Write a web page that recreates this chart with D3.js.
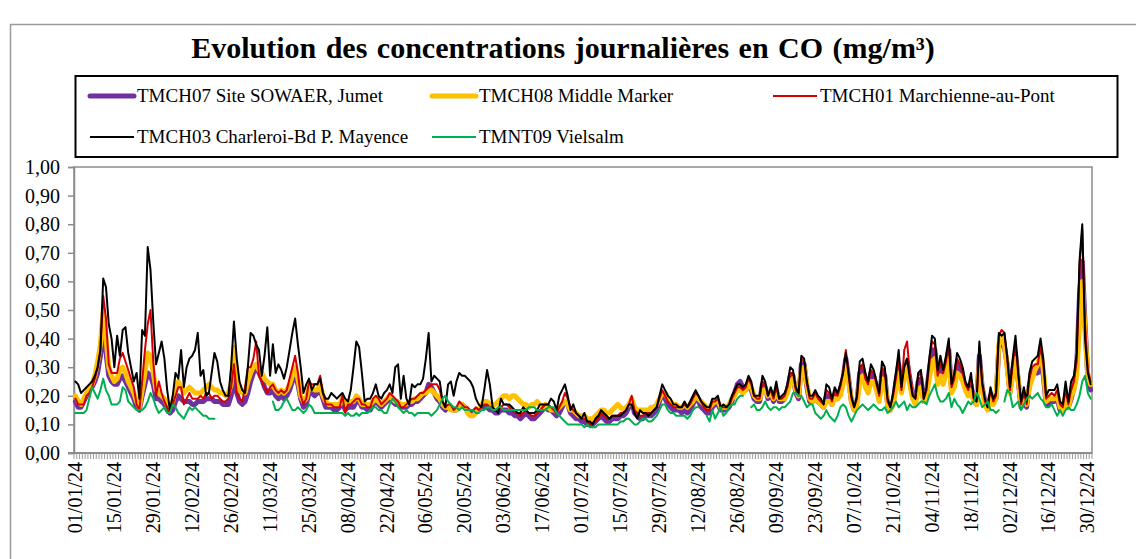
<!DOCTYPE html>
<html>
<head>
<meta charset="utf-8">
<script src="https://cdn.jsdelivr.net/npm/d3@7"></script>
<style>
body { margin: 0; background: #fff; }
text { font-family: "Liberation Serif", "Times New Roman", serif; fill: #000; }
</style>
</head>
<body>
<div id="chart"></div>
<script>
// daily CO, mg/m3, 01/01/24 -> 31/12/24 (366 days), null = no data
var tmch07 = [
  .18,.16,.16,.18,.20,.22,.23,.25,.28,.34, .45,.35,.27,.25,.24,.24,.26,.27,.25,.23,
  .21,.19,.16,.15,.20,.24,.28,.27,.24,.19, .19,.18,.17,.15,.14,.15,.18,.20,.19,.18,
  .18,.18,.17,.17,.18,.18,.18,.19,.19,.19, .18,.18,.18,.17,.17,.17,.20,.27,.21,.18,
  .17,.18,.21,.25,.28,.30,.28,.26,.23,.21, .21,.22,.20,.19,.20,.19,.20,.22,.25,.28,
  .24,.19,.16,.17,.21,.21,.20,.21,.22,.19, .16,.16,.16,.15,.15,.16,.18,.15,.16,.16,
  .16,.18,.18,.16,.16,.15,.15,.17,.18,.17, .16,.17,.18,.19,.18,.17,.17,.16,.16,.16,
  .17,.17,.18,.18,.19,.20,.21,.24,.23,.21, .19,.18,.16,.15,.16,.16,.15,.15,.16,.17,
  .16,.15,.14,.14,.15,.15,.16,.16,.16,.15, .15,.14,.14,.15,.15,.15,.14,.14,.13,.13,
  .12,.13,.14,.13,.12,.12,.13,.14,.15,.16, .15,.15,.14,.13,.14,.16,.18,.17,.14,.13,
  .12,.12,.11,.11,.10,.10,.10,.11,.12,.13, .12,.11,.11,.12,.12,.12,.13,.13,.14,.16,
  .18,.14,.13,.12,.12,.13,.13,.13,.14,.15, .18,.21,.19,.17,.16,.15,.15,.15,.14,.15,
  .14,.15,.17,.19,.18,.16,.15,.14,.14,.16, .17,.17,.15,.15,.15,.16,.18,.21,.24,.25,
  .23,.22,.24,.22,.19,.18,.18,.24,.23,.19, .21,.18,.22,.18,.18,.19,.22,.27,.27,.21,
  .19,.31,.31,.23,.18,.18,.19,.18,.17,.16, .20,.20,.17,.20,.19,.22,.26,.33,.26,.18,
  .15,.18,.28,.30,.25,.22,.28,.27,.23,.19, .28,.27,.17,.15,.18,.25,.31,.22,.28,.32,
  .26,.20,.18,.25,.26,.18,.21,.29,.36,.36, .26,.30,.26,.30,.36,.22,.25,.31,.29,.26,
  .23,.21,.24,.18,.17,.34,.23,.18,.16,.20, .18,.19,.37,.38,.37,.31,.21,.29,.35,.25,
  .16,.19,.16,.24,.27,.28,.28,.32,.27,.17, .17,.18,.18,.19,.15,.15,.19,.16,.19,.23,
  .30,.55,.67,.45,.26,.22
]
var tmch08 = [
  .20,.18,.17,.19,.21,.23,.24,.27,.32,.38, .50,.40,.30,.27,.25,.26,.29,.30,.28,.25,
  .23,.21,.18,.16,.22,.28,.35,.34,.28,.22, .21,.20,.19,.17,.16,.18,.22,.25,.23,.21,
  .22,.23,.22,.21,.21,.21,.22,.23,.24,.23, .22,.22,.21,.21,.20,.21,.24,.37,.27,.22,
  .21,.21,.25,.28,.30,.31,.29,.28,.26,.25, .24,.24,.22,.21,.22,.21,.22,.24,.27,.30,
  .26,.20,.18,.19,.23,.23,.22,.22,.24,.20, .18,.17,.17,.17,.17,.17,.19,.17,.18,.18,
  .18,.20,.19,.17,.17,.17,.17,.18,.19,.18, .17,.18,.19,.20,.19,.18,.18,.17,.17,.17,
  .18,.18,.19,.19,.20,.21,.21,.22,.22,.21, .20,.19,.17,.16,.16,.15,.15,.15,.16,.17,
  .16,.14,.13,.13,.14,.15,.17,.18,.18,.17, .17,.17,.18,.19,.20,.20,.19,.20,.20,.19,
  .18,.17,.17,.16,.17,.17,.18,.17,.16,.17, .16,.15,.15,.15,.16,.17,.18,.17,.15,.15,
  .14,.13,.13,.13,.12,.12,.12,.13,.14,.15, .15,.14,.14,.15,.16,.17,.16,.15,.16,.17,
  .19,.16,.15,.15,.15,.15,.15,.16,.16,.17, .19,.21,.21,.19,.18,.17,.17,.16,.16,.17,
  .16,.17,.18,.20,.19,.18,.17,.16,.16,.17, .18,.18,.16,.16,.16,.17,.19,.20,.22,.22,
  .21,.22,.24,.23,.20,.19,.19,.22,.22,.20, .21,.19,.21,.19,.19,.19,.21,.25,.26,.22,
  .20,.29,.30,.24,.19,.18,.19,.18,.17,.16, .18,.18,.17,.19,.19,.20,.24,.31,.25,.18,
  .15,.17,.25,.27,.23,.21,.25,.25,.22,.18, .26,.25,.17,.15,.17,.22,.28,.21,.26,.30,
  .24,.19,.17,.22,.23,.18,.20,.26,.32,.33, .24,.27,.24,.28,.33,.21,.23,.28,.27,.25,
  .22,.20,.22,.18,.17,.31,.22,.17,.15,.19, .17,.19,.38,.40,.38,.30,.21,.27,.33,.25,
  .17,.19,.17,.23,.26,.29,.31,.35,.29,.18, .19,.19,.19,.20,.16,.15,.20,.16,.20,.22,
  .27,.45,.60,.42,.27,.24
]
var tmch01 = [
  .19,.17,.17,.17,.20,.21,.23,.26,.30,.36, .55,.47,.31,.28,.28,.28,.33,.35,.32,.29,
  .26,.23,.17,.15,.25,.36,.45,.50,.32,.20, .25,.21,.18,.16,.14,.17,.20,.23,.23,.17,
  .19,.21,.19,.19,.19,.20,.19,.21,.21,.19, .20,.20,.19,.18,.18,.19,.23,.31,.21,.19,
  .18,.23,.30,.30,.33,.39,.27,.25,.23,.21, .23,.24,.22,.21,.22,.21,.22,.26,.30,.34,
  .28,.20,.17,.19,.25,.24,.24,.24,.27,.21, .17,.17,.17,.16,.16,.16,.20,.14,.17,.17,
  .18,.19,.19,.17,.17,.16,.16,.19,.20,.19, .17,.18,.19,.21,.20,.19,.18,.16,.16,.17,
  .18,.19,.19,.20,.21,.21,.22,.23,.24,.24, .24,.22,.18,.16,.17,.17,.15,.16,.18,.17,
  .16,.16,.15,.15,.16,.15,.16,.17,.17,.16, .16,.15,.15,.16,.17,.17,.16,.15,.14,.14,
  .13,.14,.15,.14,.13,.13,.14,.15,.16,.17, .17,.16,.15,.14,.16,.18,.21,.19,.16,.15,
  .14,.13,.12,.12,.11,.10,.10,.11,.12,.14, .13,.12,.12,.13,.13,.13,.14,.14,.15,.17,
  .20,.15,.14,.13,.13,.14,.14,.14,.15,.16, .19,.22,.20,.18,.17,.16,.16,.16,.16,.17,
  .16,.17,.19,.21,.20,.18,.16,.15,.15,.18, .18,.19,.16,.16,.16,.16,.19,.21,.23,.23,
  .22,.23,.26,.24,.20,.19,.19,.25,.24,.20, .22,.19,.23,.19,.19,.20,.23,.28,.28,.22,
  .20,.33,.32,.24,.19,.19,.21,.19,.18,.17, .22,.21,.18,.22,.20,.23,.28,.36,.27,.19,
  .16,.19,.30,.31,.26,.24,.29,.28,.24,.20, .30,.28,.18,.16,.20,.26,.33,.22,.36,.39,
  .28,.21,.19,.27,.28,.19,.22,.31,.39,.38, .27,.32,.28,.32,.38,.23,.26,.33,.31,.28,
  .24,.22,.26,.19,.18,.37,.24,.18,.16,.22, .18,.20,.41,.43,.42,.33,.22,.31,.39,.27,
  .17,.21,.17,.26,.30,.31,.31,.37,.31,.19, .20,.21,.20,.22,.17,.16,.22,.17,.22,.25,
  .32,.65,.78,.45,.29,.25
]
var tmch03 = [
  .25,.24,.21,.22,.23,.24,.25,.27,.30,.36, .61,.58,.45,.40,.30,.41,.34,.43,.44,.35,
  .30,.25,.28,.19,.43,.41,.72,.64,.46,.31, .35,.39,.33,.22,.15,.20,.28,.26,.36,.23,
  .30,.33,.34,.36,.42,.27,.29,.20,.21,.28, .35,.32,.25,.22,.20,.20,.30,.46,.33,.25,
  .22,.21,.30,.42,.41,.38,.36,.27,.34,.44, .27,.38,.28,.31,.29,.26,.30,.36,.42,.47,
  .38,.30,.21,.24,.26,.22,.24,.24,.26,.21, .19,.19,.21,.20,.19,.20,.21,.19,.18,.22,
  .30,.39,.37,.28,.18,.19,.19,.21,.24,.20, .19,.21,.22,.24,.21,.30,.31,.19,.27,.19,
  .17,.24,.23,.24,.24,.26,.33,.42,.25,.27, .26,.25,.18,.16,.24,.25,.20,.25,.28,.27,
  .27,.26,.25,.23,.19,.17,.16,.22,.29,.24, .16,.15,.14,.19,.17,.17,.17,.16,.15,.14,
  .14,.16,.15,.14,.14,.14,.15,.17,.17,.17, .17,.19,.18,.15,.20,.22,.24,.20,.15,.17,
  .14,.13,.12,.14,.11,.11,.10,.12,.13,.15, .14,.13,.12,.13,.13,.13,.13,.14,.15,.17,
  .17,.14,.12,.15,.14,.14,.13,.14,.15,.16, .20,.24,.22,.20,.19,.17,.17,.16,.16,.18,
  .16,.18,.20,.22,.20,.18,.17,.16,.16,.19, .19,.20,.16,.17,.16,.17,.20,.22,.24,.24,
  .23,.24,.27,.25,.20,.20,.20,.27,.25,.20, .23,.20,.25,.19,.20,.21,.24,.30,.29,.23,
  .21,.34,.33,.25,.20,.20,.22,.20,.19,.17, .24,.23,.19,.23,.21,.24,.28,.35,.28,.20,
  .16,.20,.32,.33,.28,.25,.31,.29,.25,.21, .32,.30,.19,.16,.21,.28,.36,.23,.30,.33,
  .26,.20,.19,.28,.29,.19,.23,.33,.41,.40, .29,.34,.29,.34,.40,.24,.28,.35,.33,.30,
  .25,.23,.28,.19,.18,.39,.25,.19,.16,.23, .19,.21,.42,.41,.42,.34,.23,.33,.41,.28,
  .18,.23,.18,.28,.32,.33,.34,.40,.33,.20, .22,.22,.22,.24,.18,.17,.25,.18,.25,.27,
  .35,.67,.80,.40,.28,.24
]
var tmnt09 = [
  .14,.14,.14,.14,.15,.19,.23,.21,.19,.22, .26,.22,.20,.17,.17,.17,.18,.23,.22,.18,
  .17,.16,.15,.15,.15,.16,.18,.21,.19,.16, .14,.15,.16,.14,.14,.17,.16,.14,.13,.12,
  .14,.16,.15,.16,.15,.14,.13,.13,.12,.12, .12,null,null,null,null,null,null,null,null,null,
  null,null,null,null,null,null,null,null,null,null, null,.18,.15,.15,.16,.18,.19,.17,.15,.15,
  .16,.15,.14,.15,.17,.16,.14,.14,.14,.14, .14,.14,.14,.14,.14,.14,.14,.13,.14,.13,
  .13,.14,.13,.14,.14,.14,.15,.16,.16,.15, .15,.14,.14,.17,.19,.18,.16,.15,.14,.15,
  .14,.14,.13,.14,.14,.14,.14,.14,.13,.14, .15,.17,.19,.20,.18,.17,.16,.16,.15,.16,
  .15,.15,.15,.15,.14,.14,.15,.15,.16,.16, .15,.15,.16,.16,.15,.15,.15,.15,.15,.15,
  .15,.15,.15,.16,.16,.16,.15,.15,.15,.15, .16,.16,.16,.14,.13,.12,.11,.10,.10,.10,
  .10,.10,.10,.09,.10,.09,.09,.09,.10,.10, .10,.10,.10,.10,.10,.10,.11,.11,.12,.12,
  .11,.10,.10,.11,.12,.12,.11,.11,.12,.13, .15,.17,.17,.15,.14,.14,.13,.13,.13,.13,
  .12,.13,.15,.16,.16,null,null,.13,.11,.15, .12,.14,.16,.13,.14,.16,.17,.17,.19,.20,
  .20,null,null,.16,.17,.15,.15,.16,.18,.16, .15,.16,.16,.15,.16,.16,.17,.18,.21,.21,
  .20,.20,.18,.16,.17,.17,.14,.13,.12,.13, .15,.13,.12,.11,.13,.16,.17,.16,.13,.11,
  .13,.15,.16,.17,.16,.15,.16,.17,.16,.15, .15,.16,.14,.15,.16,.18,.16,.17,.18,.15,
  .17,.16,.16,.17,.18,.18,.17,.20,.22,.24, .20,.18,.18,.19,.21,.16,.19,.17,.16,.14,
  .16,.18,.17,.18,.21,.19,.16,.17,.18,.15, .15,.14,.15,null,.18,.22,.21,.16,.17,.18,
  .15,.17,.19,.20,.19,.20,.21,.19,.18,.16, .16,.17,.15,.13,.15,.13,.15,.16,.15,.15,
  .17,.20,.25,.27,.21,.19
]

var seriesNames = ['TMCH07 Site SOWAER, Jumet', 'TMCH08 Middle Marker', 'TMCH01 Marchienne-au-Pont',
                   'TMCH03 Charleroi-Bd P. Mayence', 'TMNT09 Vielsalm']
var seriesValues = [tmch07, tmch08, tmch01, tmch03, tmnt09]
var seriesColors = ['#7030a0', '#ffc000', '#d40000', '#000000', '#00b050']
var seriesWidths = [5, 5, 2, 2, 2]
var yTicks = [0, .1, .2, .3, .4, .5, .6, .7, .8, .9, 1]
var labelEvery = 14

seriesValues.forEach(function(v, i){ if (v.length != 366) console.error(seriesNames[i], v.length) })

var days = d3.timeDay.range(new Date(2024, 0, 1), new Date(2025, 0, 1))
var fmt = d3.timeFormat('%d/%m/%y')
var yFmt = function(d){ return d3.format('.2f')(d).replace('.', ',') }

var W = 1136, H = 559
var svg = d3.select('#chart').append('svg').attr('width', W).attr('height', H)

// outer frame
svg.append('rect').attr('x', 10.5).attr('y', 24.5).attr('width', 1140).attr('height', 600)
  .attr('fill', 'none').attr('stroke', '#9a9a9a').attr('stroke-width', 1.5)

svg.append('text').attr('x', 563).attr('y', 58).attr('text-anchor', 'middle')
  .style('font-size', '30px').style('font-weight', 'bold').style('word-spacing', '2px')
  .text('Evolution des concentrations journalières en CO (mg/m³)')

// legend
var lg = svg.append('g')
lg.append('rect').attr('x', 75.5).attr('y', 76).attr('width', 1042).attr('height', 81)
  .attr('fill', 'none').attr('stroke', '#000').attr('stroke-width', 2)
var legPos = [[90, 96], [432, 96], [773, 96], [90, 137], [432, 137]]
seriesNames.forEach(function(name, i){
  var p = legPos[i]
  lg.append('line').attr('x1', p[0]).attr('x2', p[0] + 44).attr('y1', p[1]).attr('y2', p[1])
    .attr('stroke', seriesColors[i]).attr('stroke-width', seriesWidths[i])
    .attr('stroke-linecap', i < 2 ? 'round' : 'butt')
  lg.append('text').attr('x', p[0] + 47).attr('y', p[1]).attr('dy', '0.33em')
    .style('font-size', '19px').text(name)
})

// plot
var x = d3.scaleBand().domain(d3.range(days.length)).range([74, 1092]).padding(0)
var y = d3.scaleLinear().domain([0, 1]).range([453, 167])
var cx = function(i){ return x(i) + x.bandwidth() / 2 }

svg.append('rect').attr('x', 74).attr('y', 167).attr('width', 1018).attr('height', 286)
  .attr('fill', 'none').attr('stroke', '#8c8c8c').attr('stroke-width', 1.5)

var yAxis = svg.append('g').attr('transform', 'translate(74,0)')
  .call(d3.axisLeft(y).tickValues(yTicks).tickFormat(yFmt).tickSize(6).tickPadding(8))
yAxis.select('.domain').attr('stroke', '#8c8c8c').attr('stroke-width', 1.5)
yAxis.selectAll('.tick line').attr('stroke', '#8c8c8c').attr('stroke-width', 1.5)
yAxis.selectAll('.tick text').style('font-size', '20px').style('font-family', '"Liberation Serif", serif').attr('fill', '#000')

// x ticks at every category boundary
var edges = d3.range(days.length + 1).map(function(i){ return i < days.length ? x(i) : x.range()[1] })
svg.append('g').selectAll('line').data(edges).join('line')
  .attr('x1', function(d){ return d }).attr('x2', function(d){ return d })
  .attr('y1', 453).attr('y2', 459).attr('stroke', '#9a9a9a').attr('stroke-width', 1)
svg.append('line').attr('x1', 68).attr('x2', 1092).attr('y1', 453).attr('y2', 453)
  .attr('stroke', '#8c8c8c').attr('stroke-width', 2)

svg.append('g').selectAll('text')
  .data(days.filter(function(d, i){ return i % labelEvery == 0 }))
  .join('text')
  .attr('transform', function(d){ return 'translate(' + cx(d3.timeDay.count(days[0], d)) + ',462) rotate(-90)' })
  .attr('text-anchor', 'end').attr('dy', '0.33em')
  .style('font-size', '20px')
  .text(function(d){ return fmt(d) })

var line = d3.line()
  .defined(function(d){ return d != null })
  .x(function(d, i){ return cx(i) })
  .y(function(d){ return y(d) })

seriesValues.forEach(function(vals, i){
  svg.append('path').attr('d', line(vals)).attr('fill', 'none')
    .attr('stroke', seriesColors[i]).attr('stroke-width', seriesWidths[i])
    .attr('stroke-linejoin', 'round').attr('stroke-linecap', 'round')
})
</script>
</body>
</html>
